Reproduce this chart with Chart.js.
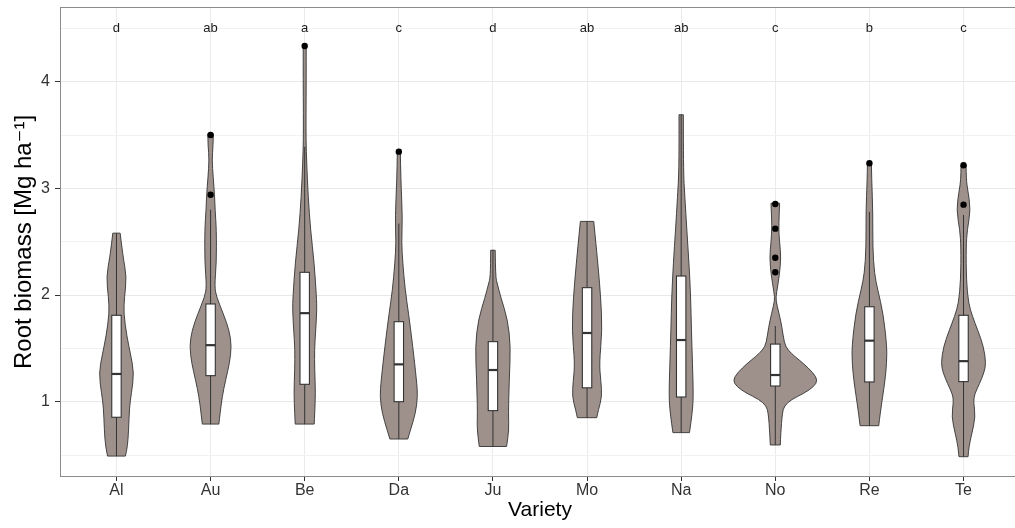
<!DOCTYPE html>
<html>
<head>
<meta charset="utf-8">
<script src="https://cdn.jsdelivr.net/npm/chart.js@4.4.1/dist/chart.umd.min.js"></script>
<style>
  html, body { margin: 0; padding: 0; background: #fff; overflow: hidden; }
  #wrap { position: relative; width: 1024px; height: 528px; }
</style>
</head>
<body>
<div id="wrap"><canvas id="myChart"></canvas></div>
<script>
// categories + significance letters
const varieties = ['Al', 'Au', 'Be', 'Da', 'Ju', 'Mo', 'Na', 'No', 'Re', 'Te']
const letters = ['d', 'ab', 'a', 'c', 'd', 'ab', 'ab', 'c', 'b', 'c']

// boxplot stats (Mg/ha)
const q1 = [0.854, 1.244, 1.163, 1.0, 0.916, 1.13, 1.044, 1.147, 1.185, 1.188]
const median = [1.26, 1.53, 1.83, 1.35, 1.297, 1.644, 1.578, 1.25, 1.572, 1.38]
const q3 = [1.81, 1.916, 2.213, 1.75, 1.563, 2.069, 2.178, 1.54, 1.89, 1.81]
const whiskerLo = [0.49, 0.79, 0.79, 0.65, 0.58, 0.85, 0.71, 0.594, 0.775, 0.484]
const whiskerHi = [2.58, 2.80, 3.39, 2.67, 2.42, 2.69, 3.69, 1.71, 2.78, 2.75]

// outliers per variety
const outAu = [3.50, 2.94]
const outBe = [4.335]
const outDa = [3.344]
const outNo = [2.853, 2.622, 2.35, 2.213]
const outRe = [3.235]
const outTe = [3.216, 2.847]

// violin outlines: biomass value + half width (in category units)
const yAl = [2.58, 2.36, 2.17, 1.98, 1.83, 1.61, 1.45, 1.27, 1.08, 0.95, 0.735, 0.58, 0.49]
const wAl = [0.039, 0.069, 0.108, 0.085, 0.076, 0.111, 0.148, 0.187, 0.159, 0.138, 0.129, 0.117, 0.095]
const yAu = [3.51, 3.40, 3.27, 3.10, 2.94, 2.80, 2.61, 2.30, 2.08, 1.98, 1.83, 1.67, 1.52, 1.36, 1.20, 1.05, 0.89, 0.79]
const wAu = [0.029, 0.027, 0.015, 0.028, 0.042, 0.048, 0.062, 0.062, 0.042, 0.064, 0.133, 0.198, 0.223, 0.201, 0.159, 0.124, 0.101, 0.088]
const yBe = [4.34, 4.02, 3.70, 3.45, 3.24, 2.92, 2.61, 2.30, 1.98, 1.86, 1.67, 1.49, 1.30, 1.08, 0.89, 0.79]
const wBe = [0.016, 0.016, 0.014, 0.014, 0.021, 0.037, 0.062, 0.101, 0.125, 0.129, 0.117, 0.104, 0.106, 0.115, 0.106, 0.101]
const yDa = [3.35, 3.08, 2.73, 2.49, 2.30, 2.05, 1.83, 1.52, 1.20, 1.05, 0.89, 0.735, 0.65]
const wDa = [0.016, 0.021, 0.039, 0.029, 0.042, 0.067, 0.103, 0.148, 0.188, 0.201, 0.177, 0.124, 0.095]
const yJu = [2.42, 2.17, 2.10, 1.98, 1.77, 1.52, 1.20, 0.89, 0.735, 0.58]
const wJu = [0.024, 0.027, 0.048, 0.083, 0.156, 0.188, 0.173, 0.164, 0.170, 0.145]
const yMo = [2.69, 2.45, 2.24, 1.98, 1.67, 1.36, 1.20, 1.05, 0.92, 0.85]
const wMo = [0.071, 0.098, 0.120, 0.145, 0.161, 0.130, 0.146, 0.159, 0.120, 0.103]
const yNa = [3.69, 3.17, 2.92, 2.61, 2.30, 1.98, 1.67, 1.36, 1.05, 0.89, 0.71]
const wNa = [0.023, 0.023, 0.039, 0.060, 0.083, 0.101, 0.109, 0.120, 0.130, 0.117, 0.088]
const yNo = [2.86, 2.64, 2.50, 2.36, 2.20, 2.02, 1.95, 1.83, 1.70, 1.55, 1.485, 1.42, 1.36, 1.27, 1.20, 1.14, 1.08, 1.02, 0.96, 0.89, 0.70, 0.594]
const wNo = [0.046, 0.035, 0.045, 0.060, 0.046, 0.013, 0.005, 0.039, 0.071, 0.095, 0.133, 0.212, 0.297, 0.403, 0.451, 0.408, 0.308, 0.170, 0.095, 0.074, 0.058, 0.053]
const yRe = [3.24, 3.08, 2.77, 2.45, 2.20, 2.05, 1.83, 1.52, 1.36, 1.20, 1.05, 0.89, 0.775]
const wRe = [0.021, 0.024, 0.037, 0.035, 0.053, 0.088, 0.146, 0.186, 0.183, 0.166, 0.141, 0.115, 0.099]
const yTe = [3.22, 3.08, 2.985, 2.80, 2.61, 2.45, 2.14, 1.92, 1.80, 1.67, 1.52, 1.36, 1.27, 1.17, 1.07, 1.00, 0.86, 0.70, 0.58, 0.484]
const wTe = [0.027, 0.029, 0.045, 0.076, 0.039, 0.027, 0.030, 0.053, 0.095, 0.151, 0.212, 0.239, 0.217, 0.170, 0.117, 0.106, 0.127, 0.088, 0.058, 0.048]

const violinY = [yAl, yAu, yBe, yDa, yJu, yMo, yNa, yNo, yRe, yTe]
const violinW = [wAl, wAu, wBe, wDa, wJu, wMo, wNa, wNo, wRe, wTe]
const outliers = [[], outAu, outBe, outDa, [], [], [], outNo, outRe, outTe]

const FONT = "'Liberation Sans', Arial, 'DejaVu Sans', sans-serif"

// smooth-ish path through a list of pixel points
function trace(ctx, pts, first) {
  if (first) ctx.moveTo(pts[0][0], pts[0][1])
  else ctx.lineTo(pts[0][0], pts[0][1])
  for (let k = 1; k < pts.length - 1; k++) {
    const mx = (pts[k][0] + pts[k + 1][0]) / 2
    const my = (pts[k][1] + pts[k + 1][1]) / 2
    ctx.quadraticCurveTo(pts[k][0], pts[k][1], mx, my)
  }
  const last = pts[pts.length - 1]
  ctx.lineTo(last[0], last[1])
}

const violinPlugin = {
  id: 'violins',
  beforeDatasetsDraw(chart) {
    const { ctx, chartArea, scales: { x, y } } = chart
    ctx.save()
    ctx.beginPath()
    ctx.rect(chartArea.left, chartArea.top, chartArea.right - chartArea.left, chartArea.bottom - chartArea.top)
    ctx.clip()
    varieties.forEach((v, i) => {
      const ys = violinY[i], ws = violinW[i]
      const right = ys.map((val, k) => [x.getPixelForValue(i + ws[k]), y.getPixelForValue(val)])
      const left = ys.map((val, k) => [x.getPixelForValue(i - ws[k]), y.getPixelForValue(val)]).reverse()
      ctx.beginPath()
      trace(ctx, right, true)
      trace(ctx, left, false)
      ctx.closePath()
      ctx.fillStyle = '#9e918c'
      ctx.fill()
      ctx.lineWidth = 0.9
      ctx.strokeStyle = '#333333'
      ctx.stroke()

      // whisker
      const cx = x.getPixelForValue(i)
      ctx.beginPath()
      ctx.moveTo(cx, y.getPixelForValue(whiskerHi[i]))
      ctx.lineTo(cx, y.getPixelForValue(whiskerLo[i]))
      ctx.lineWidth = 1
      ctx.strokeStyle = '#333333'
      ctx.stroke()

      // box
      const bx0 = x.getPixelForValue(i - 0.05)
      const bx1 = x.getPixelForValue(i + 0.05)
      const by0 = y.getPixelForValue(q3[i])
      const by1 = y.getPixelForValue(q1[i])
      ctx.fillStyle = '#ffffff'
      ctx.fillRect(bx0, by0, bx1 - bx0, by1 - by0)
      ctx.lineWidth = 1.1
      ctx.strokeRect(bx0, by0, bx1 - bx0, by1 - by0)
      const my = y.getPixelForValue(median[i])
      ctx.beginPath()
      ctx.moveTo(bx0, my)
      ctx.lineTo(bx1, my)
      ctx.lineWidth = 2.2
      ctx.stroke()
    })
    ctx.restore()
  },
  afterDatasetsDraw(chart) {
    const { ctx, chartArea, scales: { x, y } } = chart
    ctx.save()
    ctx.font = '13px ' + FONT
    ctx.fillStyle = '#1a1a1a'
    ctx.textAlign = 'center'
    ctx.textBaseline = 'middle'
    letters.forEach((l, i) => {
      ctx.fillText(l, x.getPixelForValue(i), y.getPixelForValue(4.5))
    })
    // panel border
    ctx.strokeStyle = '#8c8c8c'
    ctx.lineWidth = 1
    ctx.strokeRect(chartArea.left + 0.5, chartArea.top + 0.5, chartArea.right - chartArea.left - 1, chartArea.bottom - chartArea.top - 1)
    ctx.restore()
  }
}

const outlierPoints = []
outliers.forEach((list, i) => list.forEach(v => outlierPoints.push({ x: i, y: v })))

const ctx = document.getElementById('myChart')
// eslint-disable-next-line no-unused-vars
const myChart = new Chart(ctx, {
  type: 'scatter',
  data: {
    datasets: [{
      data: outlierPoints,
      pointRadius: 3.2,
      pointBackgroundColor: '#000000',
      pointBorderWidth: 0
    }]
  },
  options: {
    responsive: true,
    maintainAspectRatio: false,
    animation: false,
    layout: { padding: { top: 7, right: 0, left: 0, bottom: 0 } },
    plugins: {
      legend: { display: false },
      tooltip: { enabled: false }
    },
    scales: {
      x: {
        type: 'linear',
        min: -0.6,
        max: 9.6,
        afterBuildTicks: s => { s.ticks = varieties.map((v, i) => ({ value: i })) },
        afterFit: s => { s.height = 51; s.paddingLeft = 0; s.paddingRight = 0 },
        border: { display: false },
        grid: { color: '#ebebeb', lineWidth: 1, tickColor: '#333333', tickLength: 4 },
        ticks: {
          autoSkip: false,
          maxRotation: 0,
          padding: 0,
          color: '#333333',
          font: { size: 16, family: FONT },
          callback: v => varieties[v]
        },
        title: {
          display: true,
          text: 'Variety',
          color: '#000000',
          font: { size: 21, family: FONT },
          padding: { top: 0, bottom: 5 }
        }
      },
      y: {
        min: 0.294,
        max: 4.70,
        afterBuildTicks: s => { s.ticks = [0.5, 1, 1.5, 2, 2.5, 3, 3.5, 4, 4.5].map(v => ({ value: v })) },
        afterFit: s => { s.width = 60; s.paddingTop = 0; s.paddingBottom = 0 },
        border: { display: false },
        grid: {
          color: c => (c.tick && c.tick.value % 1 === 0) ? '#e8e8e8' : '#f2f2f2',
          lineWidth: 1,
          tickColor: c => (c.tick && c.tick.value % 1 === 0) ? '#333333' : 'rgba(0,0,0,0)',
          tickLength: 5
        },
        ticks: {
          autoSkip: false,
          padding: 5,
          color: '#333333',
          font: { size: 16, family: FONT },
          callback: v => (v % 1 === 0 ? String(v) : '')
        },
        title: {
          display: true,
          text: 'Root biomass [Mg ha\u207B\u00B9]',
          color: '#000000',
          font: { size: 24, family: FONT },
          padding: { top: 10, bottom: 0 }
        }
      }
    }
  },
  plugins: [violinPlugin]
})
</script>
</body>
</html>
